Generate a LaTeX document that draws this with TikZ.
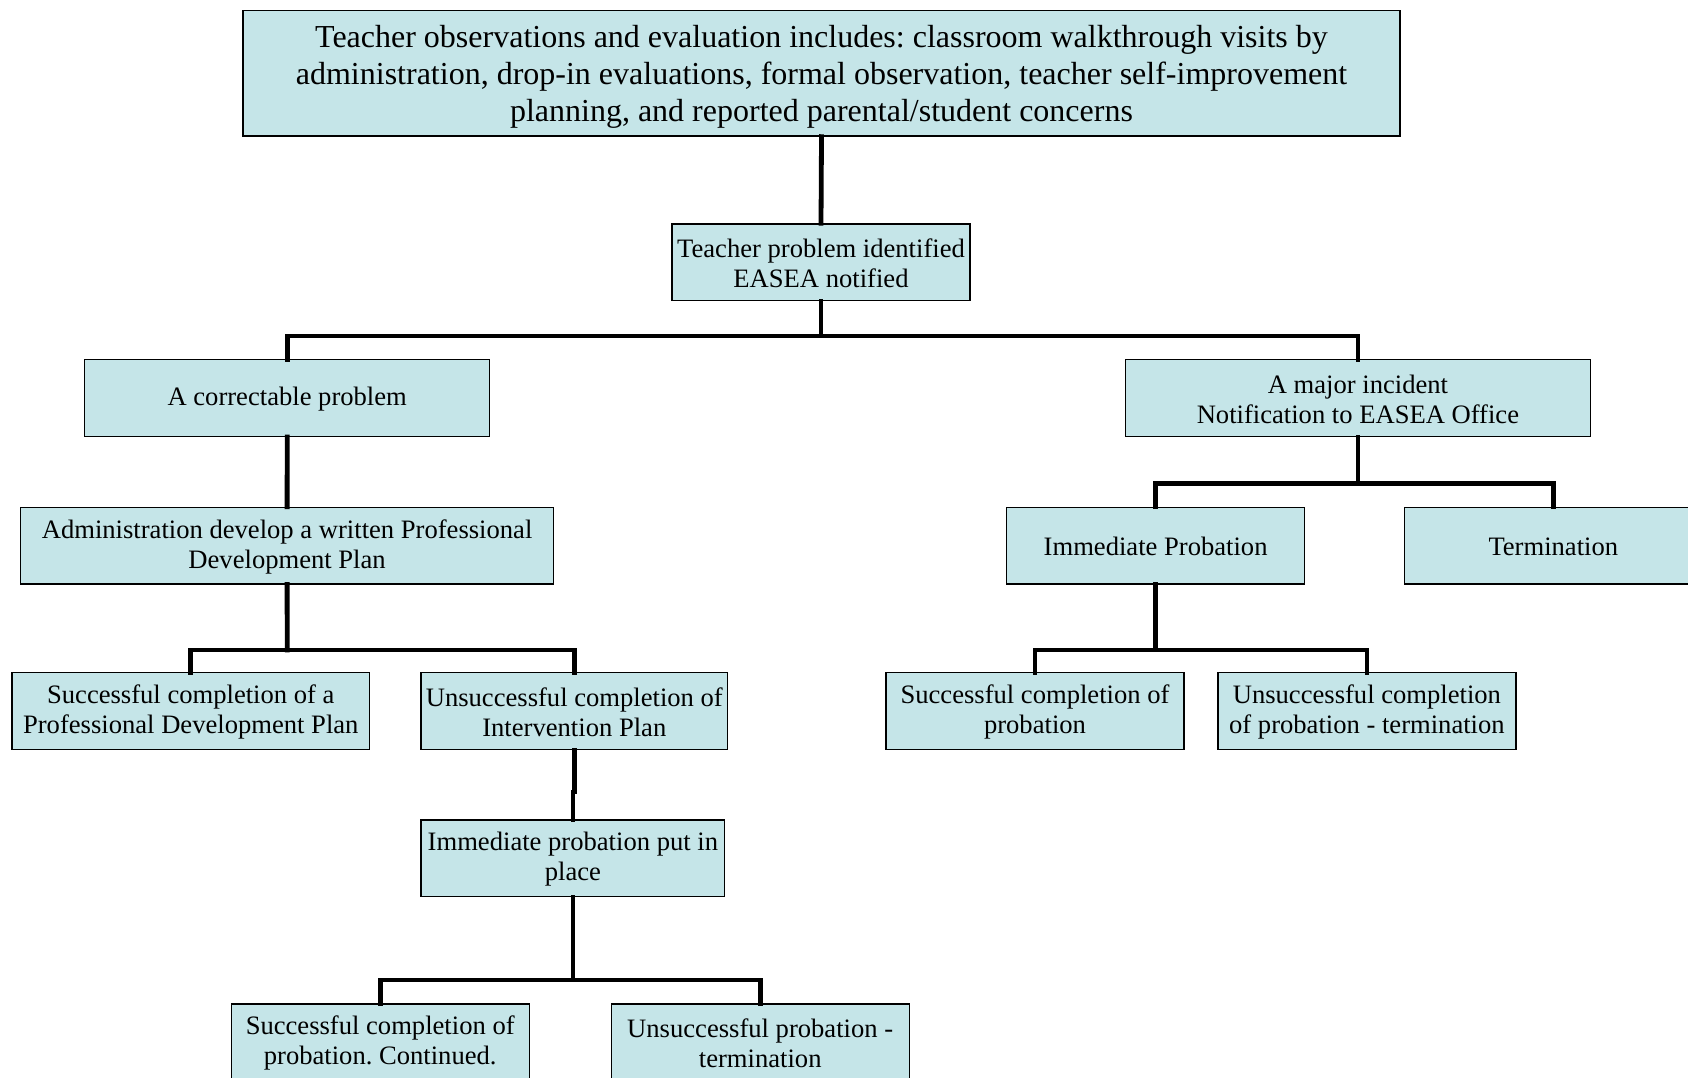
\documentclass[tikz,border=0pt]{standalone}
\usepackage{fontspec}
\setmainfont{Liberation Serif}
\frenchspacing
\definecolor{boxfill}{HTML}{C5E5E8}
\tikzset{
  box/.style={draw=black, line width=1.3pt, fill=boxfill, inner sep=0pt,
    minimum width=298pt, minimum height=76.5pt},
  txt/.style={inner sep=0pt, align=center, font=\fontsize{26.6}{30}\selectfont},
  bigtxt/.style={inner sep=0pt, align=center, font=\fontsize{32}{37}\selectfont},
  conn/.style={draw=black, line width=4.8pt, line join=miter, line cap=rect}
}
\newcommand\flowbox[4][]{%
  \node[box,#1] (#2) at (#3) {};
  \node[txt] (#2-t) at ([yshift=-1.2pt]#2.center) {#4};}
\begin{document}
\begin{tikzpicture}[x=1pt,y=-1pt]
\useasboundingbox (0,0) rectangle (1688,1077);
\clip (0,0) rectangle (1688,1077);
\fill[white] (0,0) rectangle (1688,1077);
\coordinate (b1) at (821,336);
\coordinate (b2) at (287.2,650);
\coordinate (b3) at (572.9,980);
\coordinate (b4) at (1357.9,483.5);
\coordinate (b5) at (1155.6,650);
\coordinate (jog) at (574.3,792);
% nodes
\node[box, minimum width=1157pt, minimum height=125.5pt] (top) at (821.5,73.25) {};
\node[bigtxt] (top-t) at ([yshift=-3.5pt]top.center)
  {Teacher observations and evaluation includes: classroom walkthrough visits by\\administration, drop-in evaluations, formal observation, teacher self-improvement\\planning, and reported parental/student concerns};
\flowbox{mid}{821,262.2}{Teacher problem identified\\EASEA notified}
\flowbox[minimum width=405pt]{corr}{287.2,398}{A correctable problem}
\flowbox[minimum width=533.4pt]{admin}{287.1,545.6}{Administration develop a written Professional\\Development Plan}
\flowbox[minimum width=357.7pt]{succpdp}{190.8,711}{Successful completion of a\\Professional Development Plan}
\flowbox[minimum width=306.7pt]{unsint}{574.3,711}{Unsuccessful completion of\\Intervention Plan}
\flowbox[minimum width=303.8pt]{imput}{572.9,858.2}{Immediate probation put in\\place}
\flowbox{succcont}{380.2,1042.2}{Successful completion of\\probation. Continued.}
\flowbox{unsprob}{760.2,1042.2}{Unsuccessful probation -\\termination}
\flowbox[minimum width=464.6pt]{major}{1357.9,398}{A major incident\\Notification to EASEA Office}
\flowbox{improb}{1155.6,545.6}{Immediate Probation}
\flowbox{term}{1553.3,545.6}{Termination}
\flowbox{succprob}{1035,711}{Successful completion of\\probation}
\flowbox{unsprobterm}{1366.9,711}{Unsuccessful completion\\of probation - termination}
% connectors
\draw[conn] (top.south) -- (mid.north);
\draw[conn] (mid.south) -- (b1);
\draw[conn] (corr.north) |- (b1) -| (major.north);
\draw[conn] (corr.south) -- (admin.north);
\draw[conn] (admin.south) -- (b2);
\draw[conn] (succpdp.north) |- (b2) -| (unsint.north);
\draw[conn] (unsint.south) -- (unsint.south |- jog) -| (imput.north);
\draw[conn] (imput.south) -- (b3);
\draw[conn] (succcont.north) |- (b3) -| (unsprob.north);
\draw[conn] (major.south) -- (b4);
\draw[conn] (improb.north) |- (b4) -| (term.north);
\draw[conn] (improb.south) -- (b5);
\draw[conn] (succprob.north) |- (b5) -| (unsprobterm.north);
\end{tikzpicture}
\end{document}
